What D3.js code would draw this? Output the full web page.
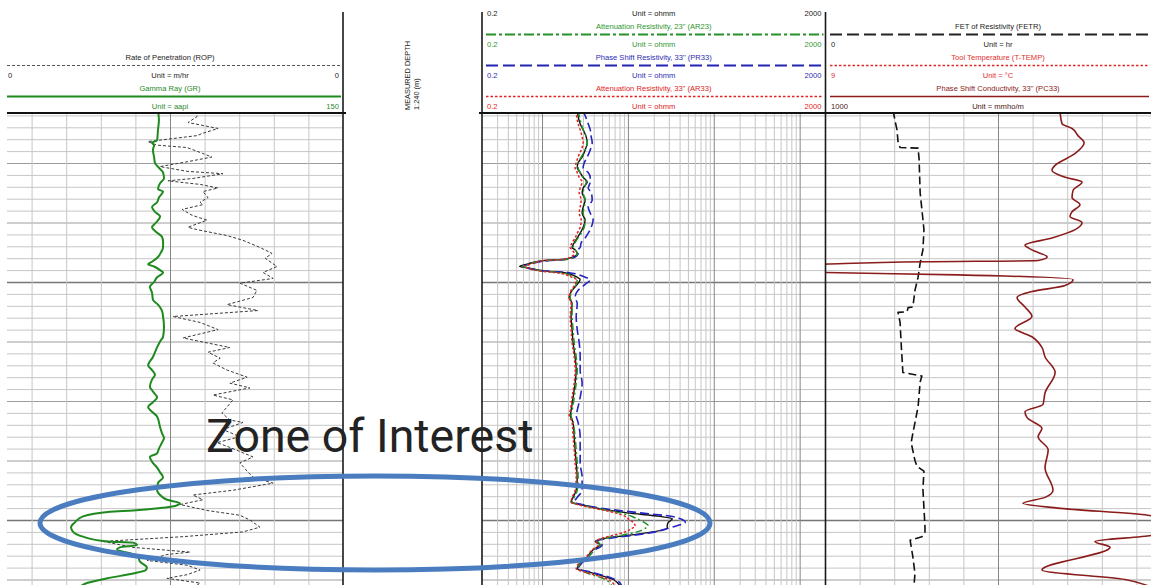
<!DOCTYPE html>
<html>
<head>
<meta charset="utf-8">
<script src="https://cdn.jsdelivr.net/npm/d3@7"></script>
<style>
  body { margin: 0; background: #fff; }
  svg { display: block; font-family: "Liberation Sans", Arial, sans-serif; }
</style>
</head>
<body>
<svg id="log" width="1151" height="585"></svg>
<script>
// ---- header labels ----
const track1Names = ["Rate of Penetration (ROP)", "Gamma Ray (GR)"];
const track1Units = ["Unit = m/hr", "Unit = aapi"];
const track1Lo = ["0", ""];
const track1Hi = ["0", "150"];

const track2Names = ["", "Attenuation Resistivity, 23\" (AR23)", "Phase Shift Resistivity, 33\" (PR33)", "Attenuation Resistivity, 33\" (AR33)"];
const track2Units = ["Unit = ohmm", "Unit = ohmm", "Unit = ohmm", "Unit = ohmm"];
const track2Lo = ["0.2", "0.2", "0.2", "0.2"];
const track2Hi = ["2000", "2000", "2000", "2000"];

const track3Names = ["FET of Resistivity (FETR)", "Tool Temperature (T-TEMP)", "Phase Shift Conductivity, 33\" (PC33)"];
const track3Units = ["Unit = hr", "Unit = \u00b0C", "Unit = mmho/m"];
const track3Lo = ["0", "9", "1000"];

const depthTitle = ["MEASURED DEPTH", "1:240 (m)"];
const zoneLabel = "Zone of Interest";
const zoneDepth = [1516.3, 1524.2];

// ---- curve data: [depth m, value] ----
const grLog = [[1485.6,69.8],[1486.4,70.2],[1487.2,69.8],[1488.1,69.4],[1488.3,67.2],[1488.5,68.1],[1488.9,67.6],[1489.5,68.1],[1490.0,68.5],[1490.4,70.2],[1490.8,72.0],[1491.3,72.4],[1491.7,70.7],[1492.2,69.8],[1492.4,72.0],[1492.9,70.2],[1493.3,69.4],[1493.7,67.2],[1494.1,68.5],[1494.5,70.7],[1495.0,69.0],[1495.4,67.2],[1495.8,69.0],[1496.2,71.5],[1496.6,72.0],[1497.1,72.0],[1497.5,71.1],[1497.9,69.8],[1498.3,67.2],[1498.5,65.5],[1498.7,68.1],[1499.0,70.7],[1499.2,72.0],[1499.6,69.4],[1500.0,68.1],[1500.4,66.3],[1500.9,67.2],[1501.5,67.6],[1501.9,69.8],[1502.4,71.5],[1502.9,72.0],[1503.8,72.4],[1504.6,72.0],[1505.0,70.7],[1505.5,69.4],[1505.9,68.5],[1506.3,67.6],[1507.0,65.5],[1507.4,67.2],[1507.8,68.5],[1508.2,67.2],[1508.8,66.3],[1509.2,67.6],[1509.7,69.4],[1510.1,67.6],[1510.5,65.5],[1510.9,67.2],[1511.3,69.4],[1512.2,70.7],[1512.7,71.5],[1513.1,72.4],[1513.5,71.5],[1514.0,70.2],[1514.4,69.4],[1514.7,66.3],[1515.1,67.2],[1515.6,69.4],[1516.0,70.7],[1516.4,72.0],[1516.9,69.8],[1517.5,69.4],[1517.9,70.7],[1518.3,73.7],[1518.6,79.3],[1518.8,77.6],[1519.0,70.7],[1519.2,59.0],[1519.3,49.0],[1519.7,37.3],[1520.2,33.8],[1520.6,32.1],[1521.0,33.0],[1521.4,37.3],[1521.8,47.7],[1521.9,59.0],[1522.1,60.7],[1522.3,53.3],[1522.5,52.0],[1522.8,57.7],[1523.1,61.1],[1523.5,62.0],[1524.0,65.0],[1524.2,64.6],[1524.5,59.0],[1524.9,47.7],[1525.3,39.0],[1525.6,36.0]];

const ropLog = [[1485.6,57.8],[1486.1,57.8],[1486.6,55.2],[1486.8,58.7],[1487.1,63.9],[1487.5,59.5],[1487.7,57.8],[1488.2,43.6],[1488.5,46.2],[1488.7,54.9],[1489.2,59.5],[1489.5,62.1],[1489.9,54.9],[1490.3,47.1],[1490.7,54.9],[1490.9,65.3],[1491.3,56.6],[1491.5,49.4],[1491.8,58.7],[1492.1,63.9],[1492.4,59.5],[1492.9,61.0],[1493.3,58.7],[1493.5,59.5],[1493.9,53.5],[1494.4,56.4],[1494.8,60.7],[1495.4,55.2],[1495.6,57.8],[1496.1,66.5],[1496.5,71.1],[1497.1,76.0],[1497.6,79.5],[1498.0,77.5],[1498.7,80.9],[1499.2,76.9],[1499.7,79.8],[1500.1,70.2],[1500.7,75.1],[1501.3,74.0],[1501.9,66.5],[1502.4,75.4],[1502.9,50.9],[1503.4,58.7],[1504.0,63.9],[1504.7,53.8],[1505.0,58.7],[1505.5,67.3],[1505.9,61.0],[1506.4,64.5],[1506.8,62.4],[1507.4,66.5],[1508.0,72.3],[1508.5,67.3],[1508.9,73.1],[1509.5,62.4],[1509.9,68.2],[1510.5,66.5],[1511.0,65.0],[1511.6,67.3],[1511.8,71.1],[1512.4,65.3],[1513.0,70.2],[1513.5,63.6],[1513.9,67.3],[1514.7,74.0],[1515.2,70.2],[1515.9,72.3],[1516.4,74.0],[1516.9,79.8],[1517.5,68.2],[1517.9,56.6],[1518.3,59.5],[1518.7,52.9],[1519.2,60.7],[1519.6,70.2],[1520.0,73.1],[1520.6,76.0],[1521.0,71.1],[1521.4,53.8],[1521.8,30.6],[1522.3,39.3],[1522.7,55.8],[1522.9,49.1],[1523.4,43.4],[1523.8,54.9],[1524.2,58.7],[1524.6,54.9],[1524.9,49.1],[1525.3,58.7],[1525.6,57.2]];

// resistivity track, shared depths (m) and values (ohmm)
const resDepth = [1485.6,1486.7,1487.2,1487.8,1488.3,1488.9,1489.5,1490.0,1490.4,1490.8,1491.2,1491.6,1492.1,1492.5,1493.1,1493.7,1494.2,1494.8,1495.4,1495.9,1496.3,1496.7,1497.1,1497.3,1497.6,1497.9,1498.1,1498.2,1498.5,1498.7,1498.8,1499.1,1499.2,1499.6,1499.8,1500.2,1500.7,1501.3,1501.8,1502.9,1504.0,1505.1,1506.3,1507.4,1508.5,1509.7,1510.8,1511.2,1511.8,1513.0,1514.1,1515.2,1516.4,1517.5,1518.1,1518.5,1518.7,1519.0,1519.4,1519.7,1519.9,1520.2,1520.5,1520.7,1521.0,1521.3,1521.5,1521.8,1522.1,1522.5,1523.1,1523.6,1524.1,1524.4,1525.0,1525.6];
const resTop = [2.57,2.78,3.01,3.27,3.36,3.18,2.93,2.63,2.57,2.78,3.01,3.36,3.01,2.93,3.18,3.01,2.93,3.18,3.01,2.78,2.57,2.37,2.24,2.43,2.57,2.30,1.76,1.03,0.67,0.55,0.67,1.15,1.76,2.57,2.78,2.57,2.24,2.07,2.24,2.18,2.24,2.30,2.43,2.50,2.43,2.30,2.18,2.13,2.30,2.37,2.43,2.50,2.57,2.50,2.30,2.18,2.78,4.39,9.82,23.8,32.9,29.5,28.7,28.7,19.7,9.82,5.74,4.16,4.76,3.94,3.36,2.78,2.57,3.64,6.74,8.14];
const ar23 = [2.63,2.86,3.01,3.27,3.36,3.18,2.86,2.63,2.63,2.78,3.01,3.27,3.10,3.01,3.18,3.10,3.01,3.18,3.10,2.86,2.63,2.43,2.30,2.43,2.57,2.37,1.86,1.09,0.69,0.59,0.67,1.09,1.62,2.37,2.57,2.50,2.24,2.13,2.24,2.24,2.30,2.37,2.50,2.57,2.50,2.37,2.24,2.18,2.30,2.43,2.50,2.57,2.63,2.57,2.37,2.24,2.63,4.16,8.14,11.2,12.8,15.5,17.3,15.9,12.8,8.14,5.74,4.51,4.76,4.05,3.45,2.78,2.63,3.18,5.44,6.56];
const pr33 = [3.01,3.45,3.64,3.74,3.84,3.64,3.36,3.10,3.01,3.45,3.64,3.64,3.45,3.74,3.84,3.45,3.64,3.94,3.74,3.45,3.18,2.86,2.78,2.63,2.63,2.43,1.91,1.18,0.73,0.59,0.65,1.24,2.01,3.18,3.64,3.18,2.63,2.43,2.57,2.50,2.57,2.71,2.78,2.78,2.93,2.78,2.57,2.50,2.63,2.78,2.78,2.78,2.93,2.93,2.57,2.37,2.93,4.76,13.9,32.9,40.8,46.6,36.6,29.5,20.8,11.2,6.56,4.39,5.02,4.16,3.45,2.93,2.63,3.84,7.11,8.59];
const ar33 = [2.50,2.63,2.78,2.93,3.01,2.86,2.63,2.50,2.43,2.57,2.71,2.93,2.78,2.71,2.86,2.78,2.71,2.86,2.78,2.57,2.43,2.24,2.13,2.24,2.37,2.18,1.71,1.09,0.73,0.62,0.67,1.00,1.42,2.24,2.50,2.43,2.18,2.07,2.18,2.13,2.18,2.24,2.37,2.43,2.37,2.24,2.13,2.07,2.24,2.30,2.37,2.43,2.50,2.43,2.24,2.18,2.57,3.94,7.11,9.31,10.1,11.5,12.2,11.2,9.31,6.56,5.16,4.27,4.51,3.84,3.27,2.71,2.50,3.27,5.90,7.11];

const fetrLog = [[1485.6,1.97],[1486.4,2.02],[1487.2,2.08],[1488.2,2.11],[1488.7,2.17],[1488.75,2.69],[1489.7,2.72],[1492.5,2.75],[1493.9,2.80],[1495.6,2.86],[1497.3,2.83],[1498.4,2.75],[1499.6,2.69],[1500.7,2.60],[1502.1,2.54],[1502.15,2.40],[1502.5,2.37],[1502.55,2.11],[1503.4,2.17],[1505.1,2.20],[1506.6,2.23],[1507.6,2.25],[1507.9,2.80],[1508.4,2.75],[1510.5,2.69],[1512.7,2.54],[1513.5,2.49],[1515.0,2.60],[1515.5,2.66],[1515.9,2.86],[1517.4,2.83],[1520.6,2.89],[1521.1,2.89],[1521.4,2.80],[1521.7,2.46],[1523.1,2.54],[1524.5,2.60],[1525.6,2.57]];

const pc33Log = [[1485.6,321],[1486.7,315],[1487.1,286],[1487.7,269],[1488.3,251],[1489.2,277],[1490.2,335],[1490.6,344],[1491.2,306],[1491.6,257],[1492.3,283],[1492.9,286],[1493.5,263],[1494.1,286],[1494.5,292],[1495.0,257],[1495.6,277],[1496.3,344],[1496.9,422],[1497.3,402],[1497.9,358],[1498.2,384],[1498.3,711],[1498.5,1000],[1498.7,1200],[1499.0,1200],[1499.2,1000],[1499.4,616],[1499.8,283],[1500.3,306],[1500.8,402],[1501.3,445],[1502.1,422],[1502.9,402],[1503.9,451],[1504.6,402],[1505.5,373],[1506.3,364],[1507.6,335],[1509.3,364],[1510.3,370],[1510.9,422],[1511.4,416],[1512.3,373],[1513.0,384],[1514.1,355],[1515.6,364],[1517.5,341],[1518.1,364],[1518.6,428],[1519.0,327],[1519.6,67],[1520.4,-20],[1521.3,58],[1521.8,220],[1522.3,176],[1524.2,373],[1525.0,133],[1525.6,60]];

// ---- layout / style ----
const settings = {
  width: 1151,
  height: 585,
  plotTop: 113,
  borderTop: 12,
  fontSize: 7.6,
  track1: { x0: -3, x1: 343, inner: 7 },
  track2: { x0: 482, x1: 825.5 },
  track3: { x0: 825, x1: 1171 },
  header: { titles: [26, 57, 88], lineOff: 8.5, unitOff: 18, topUnit: 13 },
  grid: { light: "#c6c6c6", medium: "#9c9c9c", heavy: "#767676", major: "#868686" },
  zone: { cx: 375, rx: 335, color: "#4a7cc0", width: 5, textX: 206, textY: 452, textSize: 46.5 }
};
const S = settings;

const svg = d3.select("#log");
const defs = svg.append("defs");

const y = d3.scaleLinear().domain([1500, 1520]).range([282, 520]);
const depthTicks = d3.range(1486, 1526);

const grX = d3.scaleLinear().domain([0, 150]).range([S.track1.x0, S.track1.x1]);
const ropX = d3.scaleLinear().domain([0, 100]).range([S.track1.x0, S.track1.x1]);
const resX = d3.scaleLog().domain([0.2, 2000]).range([S.track2.x0, S.track2.x1]);
const fetrX = d3.scaleLinear().domain([0, 10]).range([S.track3.x0, S.track3.x1]);
const pcX = d3.scaleLinear().domain([1000, 0]).range([S.track3.x0, S.track3.x1]);

function addClip(id, x0, x1) {
  defs.append("clipPath").attr("id", id)
    .append("rect")
    .attr("x", x0).attr("y", S.plotTop + 1)
    .attr("width", x1 - x0).attr("height", S.height - S.plotTop);
}
addClip("c1", S.track1.inner, S.track1.x1);
addClip("c2", S.track2.x0, S.track2.x1);
addClip("c3", S.track3.x0, S.width);
defs.append("clipPath").attr("id", "hdr")
  .append("rect").attr("x", 0).attr("y", 10.5).attr("width", S.width).attr("height", 110);

// grid for one track
function grid(x0, x1, xScale, xTicks, isMajor) {
  const g = svg.append("g");
  g.append("g")
    .attr("transform", "translate(" + x0 + ",0)")
    .call(d3.axisLeft(y).tickValues(depthTicks).tickSize(-(x1 - x0)).tickFormat(""))
    .call(a => a.select(".domain").remove())
    .selectAll(".tick line")
    .attr("stroke", d => d % 20 === 0 ? S.grid.heavy : d % 5 === 0 ? S.grid.medium : S.grid.light)
    .attr("stroke-width", d => d % 20 === 0 ? 1.3 : 1);
  g.append("g")
    .attr("transform", "translate(0," + S.height + ")")
    .call(d3.axisBottom(xScale).tickValues(xTicks).tickSize(-(S.height - S.plotTop)).tickFormat(""))
    .call(a => a.select(".domain").remove())
    .selectAll(".tick line")
    .attr("stroke", d => isMajor(d) ? S.grid.major : S.grid.light);
}

grid(S.track1.inner, S.track1.x1, grX, d3.range(15, 150, 15), d => d === 75);
const logTicks = resX.ticks().filter(d => d > 0.2 && d < 2000);
grid(S.track2.x0, S.track2.x1, resX, logTicks, d => [1, 10, 100, 1000].includes(Math.round(d * 10) / 10));
grid(S.track3.x0, S.width, fetrX, d3.range(1, 10), d => d === 5);

// curves
function drawCurve(clipId, data, xs, color, width, dash, curve) {
  const line = d3.line()
    .x(d => xs(d[1]))
    .y(d => y(d[0]))
    .curve(curve || d3.curveMonotoneY);
  svg.append("path")
    .attr("clip-path", "url(#" + clipId + ")")
    .attr("d", line(data))
    .attr("fill", "none")
    .attr("stroke", color)
    .attr("stroke-width", width)
    .attr("stroke-dasharray", dash || null)
    .attr("stroke-linejoin", "round");
}

drawCurve("c1", ropLog, ropX, "#3a3a3a", 1, "3,2", d3.curveLinear);
drawCurve("c1", grLog, grX, "#1e8a1e", 2);

const zip = vals => resDepth.map((d, i) => [d, vals[i]]);
drawCurve("c2", zip(resTop), resX, "#111", 1.4);
drawCurve("c2", zip(pr33), resX, "#2424c0", 1.6, "9,4");
drawCurve("c2", zip(ar23), resX, "#23922b", 1.5, "7,3,2,3");
drawCurve("c2", zip(ar33), resX, "#e42222", 1.5, "2.5,2");

drawCurve("c3", fetrLog, fetrX, "#111", 1.6, "8,4", d3.curveLinear);
drawCurve("c3", pc33Log, pcX, "#8b1c1c", 1.6);

// track borders
[S.track1.x1, S.track2.x0, S.track2.x1].forEach(x => {
  svg.append("line")
    .attr("x1", x).attr("x2", x)
    .attr("y1", S.borderTop).attr("y2", S.height)
    .attr("stroke", "#1a1a1a").attr("stroke-width", 1.6);
});
svg.append("line").attr("x1", S.track1.inner).attr("x2", S.track1.x1 + 3)
  .attr("y1", S.plotTop).attr("y2", S.plotTop).attr("stroke", "#111").attr("stroke-width", 2);
svg.append("line").attr("x1", S.track2.x0 - 3).attr("x2", S.width)
  .attr("y1", S.plotTop).attr("y2", S.plotTop).attr("stroke", "#111").attr("stroke-width", 2);

// header blocks
function headerBlock(x0, x1, lineX0, cy, name, unit, lo, hi, textColor, lineColor, lineWidth, dash, unitColor) {
  const g = svg.append("g").attr("font-size", S.fontSize).attr("clip-path", "url(#hdr)");
  const cx = (x0 + x1) / 2;
  if (name) {
    g.append("text").attr("x", cx).attr("y", cy).attr("dy", "0.35em")
      .attr("text-anchor", "middle").attr("fill", textColor).text(name);
    g.append("line")
      .attr("x1", lineX0).attr("x2", Math.min(x1, S.width) - 2)
      .attr("y1", cy + S.header.lineOff).attr("y2", cy + S.header.lineOff)
      .attr("stroke", lineColor).attr("stroke-width", lineWidth)
      .attr("stroke-dasharray", dash || null);
  }
  const uy = name ? cy + S.header.unitOff : cy;
  const uc = unitColor || textColor;
  g.append("text").attr("x", cx).attr("y", uy).attr("dy", "0.35em")
    .attr("text-anchor", "middle").attr("fill", uc).text(unit);
  if (lo) g.append("text").attr("x", lineX0 + 1).attr("y", uy).attr("dy", "0.35em").attr("fill", uc).text(lo);
  if (hi) g.append("text").attr("x", Math.min(x1, S.width) - 4).attr("y", uy).attr("dy", "0.35em")
    .attr("text-anchor", "end").attr("fill", uc).text(hi);
}

const H = S.header;
const t1 = S.track1, t2 = S.track2, t3 = S.track3;
headerBlock(t1.x0, t1.x1, t1.inner, H.titles[1], track1Names[0], track1Units[0], track1Lo[0], track1Hi[0], "#222", "#555", 1, "3,2");
headerBlock(t1.x0, t1.x1, t1.inner, H.titles[2], track1Names[1], track1Units[1], track1Lo[1], track1Hi[1], "#2a8a2a", "#1e8a1e", 2, null);

headerBlock(t2.x0, t2.x1, t2.x0 + 4, H.topUnit, track2Names[0], track2Units[0], track2Lo[0], track2Hi[0], "#222");
headerBlock(t2.x0, t2.x1, t2.x0 + 4, H.titles[0], track2Names[1], track2Units[1], track2Lo[1], track2Hi[1], "#2f962f", "#23922b", 2, "10,3,3,3");
headerBlock(t2.x0, t2.x1, t2.x0 + 4, H.titles[1], track2Names[2], track2Units[2], track2Lo[2], track2Hi[2], "#2c2cb4", "#2424b4", 2, "12,5");
headerBlock(t2.x0, t2.x1, t2.x0 + 4, H.titles[2], track2Names[3], track2Units[3], track2Lo[3], track2Hi[3], "#e02424", "#e42222", 1.5, "2.5,2");

headerBlock(t3.x0, t3.x1, t3.x0 + 5, H.titles[0], track3Names[0], track3Units[0], track3Lo[0], "", "#222", "#222", 2, "12,5");
headerBlock(t3.x0, t3.x1, t3.x0 + 5, H.titles[1], track3Names[1], track3Units[1], track3Lo[1], "", "#e03030", "#e02828", 1.5, "2.5,2");
headerBlock(t3.x0, t3.x1, t3.x0 + 5, H.titles[2], track3Names[2], track3Units[2], track3Lo[2], "", "#8b1c1c", "#8b1c1c", 1.6, null, "#4a1414");

// depth track header (vertical text)
const dt = svg.append("g").attr("font-size", 7.4).attr("fill", "#222");
dt.append("text").attr("transform", "translate(407,110) rotate(-90)").attr("dy", "0.35em").text(depthTitle[0]);
dt.append("text").attr("transform", "translate(416,110) rotate(-90)").attr("dy", "0.35em").text(depthTitle[1]);

// zone of interest annotation
svg.append("text")
  .attr("x", S.zone.textX).attr("y", S.zone.textY)
  .attr("font-family", "Roboto, sans-serif").attr("font-size", S.zone.textSize)
  .attr("fill", "#232323").text(zoneLabel);
svg.append("ellipse")
  .attr("cx", S.zone.cx).attr("rx", S.zone.rx)
  .attr("cy", (y(zoneDepth[0]) + y(zoneDepth[1])) / 2)
  .attr("ry", (y(zoneDepth[1]) - y(zoneDepth[0])) / 2)
  .attr("fill", "none").attr("stroke", S.zone.color).attr("stroke-width", S.zone.width);
</script>
</body>
</html>
